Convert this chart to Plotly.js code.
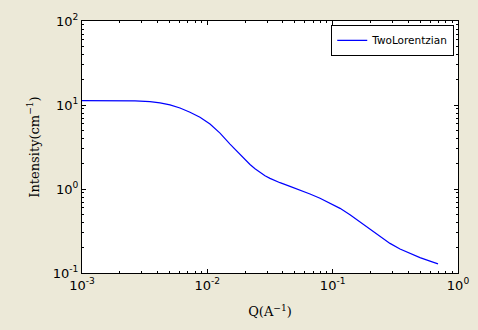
<!DOCTYPE html>
<html>
<head>
<meta charset="utf-8">
<script src="https://cdn.plot.ly/plotly-3.0.1.min.js"></script>
<style>html,body{margin:0;padding:0;background:#ece9d8;}#chart{width:478px;height:330px;}</style>
</head>
<body>
<div id="chart"></div>
<script>
const seriesName = "TwoLorentzian";
const q = [0.001, 0.001392, 0.002010, 0.002648, 0.003488, 0.004193, 0.005037, 0.006051, 0.007272, 0.008737,
           0.010503, 0.012619, 0.015167, 0.018226, 0.021902, 0.024014, 0.02631, 0.02885, 0.03162, 0.03467,
           0.03800, 0.04567, 0.05487, 0.06594, 0.07925, 0.09524, 0.1145, 0.1375, 0.1652, 0.1986,
           0.2385, 0.2867, 0.3446, 0.4141, 0.4975, 0.5979, 0.6928];
const intensity = [11.30, 11.30, 11.27, 11.18, 10.94, 10.61, 10.05, 9.205, 8.21, 7.16,
                   5.945, 4.624, 3.423, 2.570, 1.956, 1.739, 1.567, 1.436, 1.338, 1.259,
                   1.189, 1.075, 0.974, 0.873, 0.776, 0.683, 0.588, 0.492, 0.406, 0.332,
                   0.271, 0.2252, 0.1927, 0.1695, 0.1523, 0.1385, 0.1283];
const xTickVals = [0.001, 0.01, 0.1, 1];
const xTickText = ["10<sup>-3</sup>", "10<sup>-2</sup>", "10<sup>-1</sup>", "10<sup>0</sup>"];
const yTickVals = [0.1, 1, 10, 100];
const yTickText = ["10<sup>-1</sup>", "10<sup>0</sup>", "10<sup>1</sup>", "10<sup>2</sup>"];

function minorVals(lo, hi) {
  const v = [];
  for (let e = lo; e < hi; e++) for (let m = 2; m <= 9; m++) v.push(m * Math.pow(10, e));
  return v;
}

const tickFont = {family: "DejaVu Sans", size: 13, color: "#000"};
const titleFont = {family: "DejaVu Serif", size: 13, color: "#000"};

const axisCommon = {
  type: "log",
  showline: true, linecolor: "#000", linewidth: 1,
  mirror: "allticks",
  ticks: "inside", ticklen: 4, tickwidth: 1, tickcolor: "#000",
  showgrid: false, zeroline: false,
  tickmode: "array",
  tickfont: tickFont
};

const layout = {
  width: 478, height: 330,
  paper_bgcolor: "#ece9d8",
  plot_bgcolor: "#ffffff",
  margin: {l: 82, r: 20, t: 20.5, b: 56.7},
  showlegend: true,
  legend: {
    x: 0.99, y: 0.985, xanchor: "right", yanchor: "top",
    bgcolor: "#ffffff", bordercolor: "#000", borderwidth: 1,
    font: {family: "DejaVu Sans", size: 10.5, color: "#000"},
    itemwidth: 30,
    tracegroupgap: 0
  },
  xaxis: Object.assign({}, axisCommon, {
    range: [-3, 0],
    tickvals: xTickVals, ticktext: xTickText,
    minor: {tickmode: "array", tickvals: minorVals(-3, 0), ticks: "inside", ticklen: 2, tickcolor: "#000", showgrid: false},
    title: {text: "Q(A<sup>−1</sup>)", font: titleFont, standoff: 15}
  }),
  yaxis: Object.assign({}, axisCommon, {
    range: [-1, 2],
    tickvals: yTickVals, ticktext: yTickText,
    minor: {tickmode: "array", tickvals: minorVals(-1, 2), ticks: "inside", ticklen: 2, tickcolor: "#000", showgrid: false},
    title: {text: "Intensity(cm<sup>−1</sup>)", font: titleFont, standoff: 10}
  })
};

const data = [{
  x: q, y: intensity, type: "scatter", mode: "lines",
  name: seriesName,
  line: {color: "#0000ff", width: 1.2, shape: "linear"}
}];

Plotly.newPlot("chart", data, layout, {displayModeBar: false, staticPlot: true});
</script>
</body>
</html>
